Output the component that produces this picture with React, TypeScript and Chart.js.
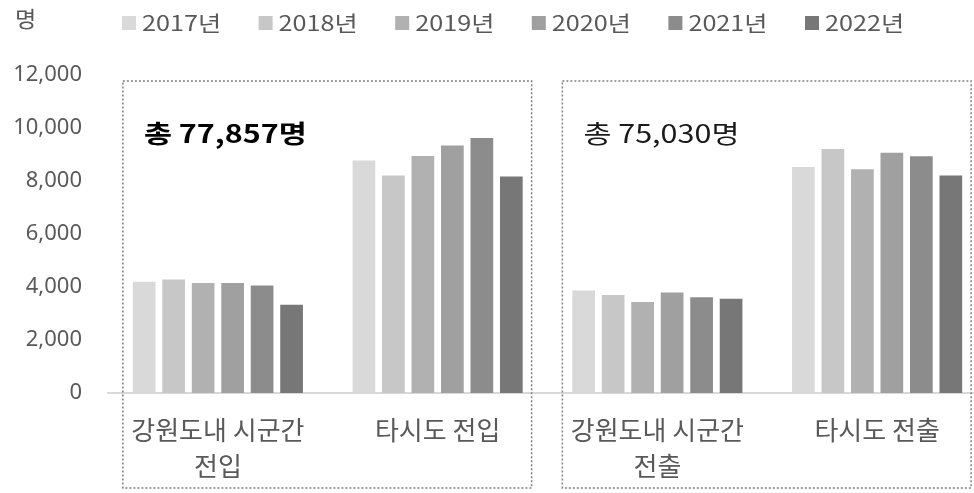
import React, { useEffect, useRef } from "react";
import { Chart, registerables } from "chart.js";

Chart.register(...registerables);

const FONT = '"Noto Sans CJK KR", "Noto Sans", sans-serif';

const categories: string[][] = [
  ["강원도내 시군간", "전입"],
  ["타시도 전입"],
  ["강원도내 시군간", "전출"],
  ["타시도 전출"],
];
const years = ["2017년", "2018년", "2019년", "2020년", "2021년", "2022년"];
const v2017 = [4200, 8770, 3870, 8530];
const v2018 = [4280, 8210, 3700, 9210];
const v2019 = [4150, 8940, 3430, 8440];
const v2020 = [4150, 9340, 3790, 9070];
const v2021 = [4060, 9620, 3610, 8930];
const v2022 = [3330, 8170, 3560, 8210];
const seriesValues = [v2017, v2018, v2019, v2020, v2021, v2022];
const colors = ["#d9d9d9", "#c7c7c7", "#b1b1b1", "#a0a0a0", "#8c8c8c", "#777777"];
const yMax = 12000;
const yStep = 2000;
const yUnit = "명";
const totalLabels = ["총 77,857명", "총 75,030명"];

function wideText(ctx: CanvasRenderingContext2D, text: string, x: number, y: number, sx: number) {
  ctx.save();
  ctx.translate(x, y);
  ctx.scale(sx, 1);
  ctx.fillText(text, 0, 0);
  ctx.restore();
}

const overlay = {
  id: "overlay",
  afterDraw(chart: any) {
    const ctx = chart.ctx as CanvasRenderingContext2D;
    const xs = chart.scales.x;
    ctx.save();
    ctx.textAlign = "left";
    ctx.textBaseline = "middle";

    // unit label
    ctx.fillStyle = "#595959";
    ctx.font = `22px ${FONT}`;
    wideText(ctx, yUnit, 15, 19, 1.05);

    // legend
    ctx.font = `21px ${FONT}`;
    chart.data.datasets.forEach((ds: any, i: number) => {
      const bx = 122 + i * 136.6;
      ctx.fillStyle = ds.backgroundColor;
      ctx.fillRect(bx, 16, 14, 14);
      ctx.fillStyle = "#595959";
      wideText(ctx, ds.label, bx + 20, 23, 1.2);
    });

    // dotted group boxes
    const boxTop = 81;
    const boxBottom = 488;
    const groups = [
      [0, 1],
      [2, 3],
    ];
    groups.forEach(([a, b], gi) => {
      const left = xs.getPixelForValue(a) - 95;
      const right = xs.getPixelForValue(b) + 94;
      ctx.setLineDash([2, 2]);
      ctx.strokeStyle = "#7f7f7f";
      ctx.lineWidth = 1.5;
      ctx.strokeRect(left, boxTop, right - left, boxBottom - boxTop);
      ctx.fillStyle = gi === 0 ? "#000000" : "#1a1a1a";
      ctx.font = `${gi === 0 ? "bold " : ""}25px ${FONT}`;
      wideText(ctx, totalLabels[gi], left + 21, boxTop + 52, 1.22);
    });
    ctx.restore();
  },
};

export default function App() {
  const ref = useRef<HTMLCanvasElement | null>(null);

  useEffect(() => {
    if (!ref.current) return;
    const chart = new Chart(ref.current, {
      type: "bar",
      data: {
        labels: categories as any,
        datasets: years.map((y, i) => ({
          label: y,
          data: seriesValues[i],
          backgroundColor: colors[i],
          borderWidth: 0,
          categoryPercentage: 0.805,
          barPercentage: 0.77,
        })),
      },
      options: {
        responsive: false,
        animation: false,
        devicePixelRatio: 1,
        layout: { padding: { top: 75, left: 0, right: 0, bottom: 0 } },
        plugins: {
          legend: { display: false },
          tooltip: { enabled: false },
        },
        scales: {
          x: {
            grid: { display: false, drawTicks: false },
            border: { display: true, color: "#d9d9d9", width: 2 },
            ticks: {
              color: "#595959",
              font: { family: FONT, size: 26, lineHeight: 1.38 },
              padding: 19,
              maxRotation: 0,
              autoSkip: false,
            },
            afterFit: (s: any) => {
              s.height = 100;
            },
          },
          y: {
            min: 0,
            max: yMax,
            grid: { display: false, drawTicks: false },
            border: { display: false },
            ticks: {
              stepSize: yStep,
              color: "#595959",
              font: { family: '"Noto Sans", "Noto Sans CJK KR", sans-serif', size: 22 },
              padding: 26,
              callback: (v: any) => Number(v).toLocaleString("en-US"),
            },
            afterFit: (s: any) => {
              s.width = 108;
            },
          },
        },
      },
      plugins: [overlay],
    });
    return () => chart.destroy();
  }, []);

  return (
    <div
      style={{
        position: "fixed",
        left: 0,
        top: 0,
        width: 974,
        height: 493,
        overflow: "hidden",
        background: "#ffffff",
      }}
    >
      <canvas ref={ref} width={987} height={493} style={{ width: 987, height: 493, display: "block" }} />
    </div>
  );
}
